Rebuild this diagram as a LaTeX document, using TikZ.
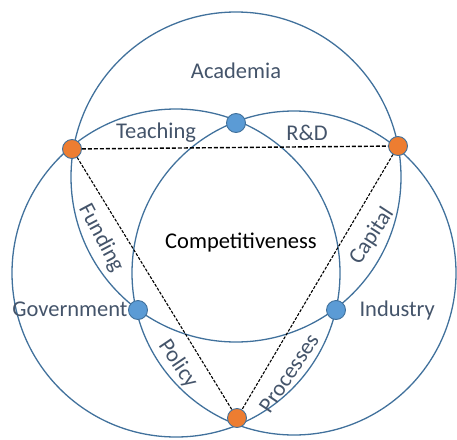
\documentclass[tikz,border=0pt]{standalone}
\usepackage{fontspec}
\setmainfont{Carlito}
\definecolor{ringblue}{HTML}{41719C}
\definecolor{dotblue}{HTML}{5B9BD5}
\definecolor{dotorange}{HTML}{ED7D31}
\definecolor{labelgray}{HTML}{44546A}

\begin{document}
\begin{tikzpicture}[x=1pt,y=-1pt,
    ring/.style={draw=ringblue, line width=1.3pt},
    dot/.style={circle, draw=ringblue, line width=0.9pt, minimum size=19pt, inner sep=0pt},
    bluedot/.style={dot, fill=dotblue},
    orangedot/.style={dot, fill=dotorange},
    lbl/.style={text=labelgray, font=\fontsize{22.5}{27}\selectfont},
    link/.style={black, line width=1.4pt, dash pattern=on 4pt off 2pt}]
            \useasboundingbox (0,0) rectangle (457,439);
            % the three big circles
            \draw[ring] (236,177) circle [radius=165];
            \draw[ring] (176,273) circle [radius=164];
            \draw[ring] (294,273) circle [radius=162];
            % meeting points
            \node[orangedot] (o_l) at (72,149) {};
            \node[orangedot] (o_r) at (398,146) {};
            \node[orangedot] (o_b) at (237,418) {};
            \node[bluedot] (b_t) at (236,123) {};
            \node[bluedot] (b_g) at (138,310) {};
            \node[bluedot] (b_i) at (336,310) {};
            \path[link]
                (o_l) edge (o_r)
                (o_l) edge [line width=1.1pt, dash pattern=on 3pt off 1.5pt] (o_b)
                (o_r) edge [line width=1.1pt, dash pattern=on 3pt off 1.5pt] (o_b);
            % labels
            \node[lbl, anchor=base] (academia) at (236,78) {Academia};
            \node[lbl, anchor=base] (teaching) at (156,138) {Teaching};
            \node[lbl, anchor=base] (rd) at (307,140) {R\&D};
            \node[lbl, anchor=base, text=black] (comp) at (241,248) {Competitiveness};
            \node[lbl, anchor=base east] (gov) at (131,316) {Government};
            \node[lbl, anchor=base west] (ind) at (356,316) {Industry};
            \node[lbl, rotate=-62] (funding) at (101,238) {Funding};
            \node[lbl, rotate=-56] (policy) at (178,364) {Policy};
            \node[lbl, rotate=56] (processes) at (289,373) {Processes};
            \node[lbl, rotate=57] (capital) at (372,236) {Capital};
        \end{tikzpicture}
\end{document}
